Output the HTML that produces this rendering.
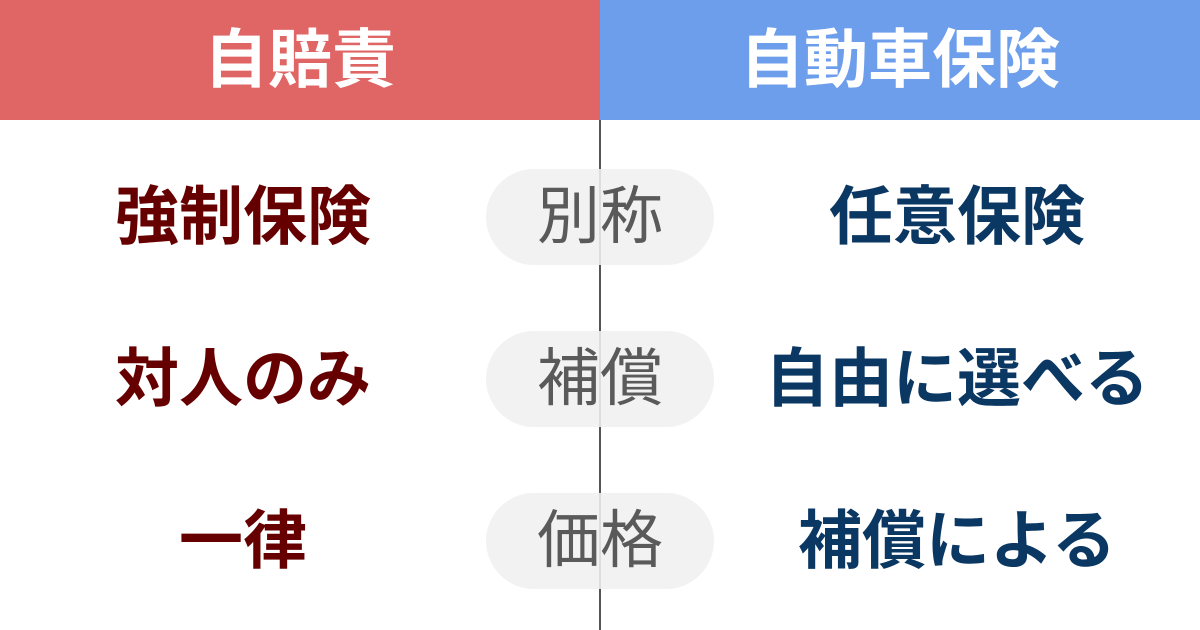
<!DOCTYPE html>
<html><head><meta charset="utf-8"><style>
body{margin:0;width:1200px;height:630px;position:relative;background:#fff;overflow:hidden;font-family:"Liberation Sans","Noto Sans CJK JP",sans-serif}
.h{position:absolute;top:0;height:120px;width:600px;color:#fff;font-weight:bold;font-size:64px;line-height:120px;text-align:center}
.line{position:absolute;left:599px;top:120px;width:1.5px;height:510px;background:#555}
.pill{position:absolute;left:486px;width:228px;height:96px;border-radius:48px;background:rgba(240,240,240,0.88);color:#5a5a5a;font-size:63px;line-height:96px;text-align:center}
.l,.r{position:absolute;font-weight:bold;font-size:64px;line-height:96px;text-align:center;width:480px}
.l{left:3px;color:#660000}
.r{left:717px;color:#0b3763}
</style></head><body>
<div class="h" style="left:0;background:#e06666">自賠責</div>
<div class="h" style="left:600px;background:#6d9eeb">自動車保険</div>
<div class="line"></div>
<div class="l" style="top:169px">強制保険</div>
<div class="pill" style="top:169px">別称</div>
<div class="r" style="top:169px">任意保険</div>
<div class="l" style="top:331px">対人のみ</div>
<div class="pill" style="top:331px">補償</div>
<div class="r" style="top:331px">自由に選べる</div>
<div class="l" style="top:493px">一律</div>
<div class="pill" style="top:493px">価格</div>
<div class="r" style="top:493px">補償による</div>
</body></html>
